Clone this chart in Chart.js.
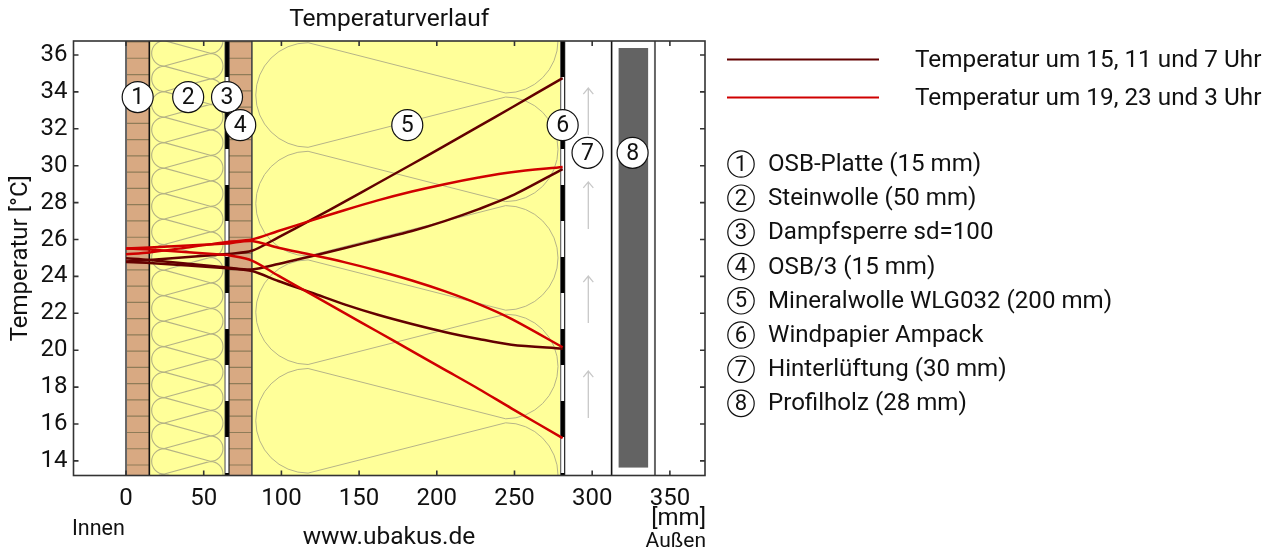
<!DOCTYPE html>
<html>
<head>
<meta charset="utf-8">
<title>Temperaturverlauf</title>
<script src="https://cdn.jsdelivr.net/npm/chart.js@4"></script>
<style>
  html, body { margin: 0; padding: 0; background: #fff; }
  canvas { display: block; }
</style>
</head>
<body>
<canvas id="chart" width="1273" height="551"></canvas>
<script>
/* ================= DATA ================= */
const xTicks = [0, 50, 100, 150, 200, 250, 300, 350];
const yTicks = [14, 16, 18, 20, 22, 24, 26, 28, 30, 32, 34, 36];

// depth in the wall (mm) where temperatures were read
const depth = [0, 15, 65, 66, 81, 98, 120, 141, 162, 184, 205, 227, 248, 281];

const dark15 = [24.81, 24.89, 25.21, 25.22, 25.39, 26.12, 27.1, 28.07, 29.05, 30.08, 31.08, 32.13, 33.14, 34.75];
const dark11 = [24.98, 24.89, 24.48, 24.47, 24.38, 24.67, 25.11, 25.54, 25.99, 26.46, 27.0, 27.65, 28.36, 29.82];
const dark7 = [24.78, 24.73, 24.44, 24.43, 24.29, 23.75, 23.1, 22.47, 21.92, 21.42, 20.99, 20.61, 20.3, 20.08];
const red19 = [25.2, 25.3, 25.86, 25.88, 26.0, 26.46, 27.05, 27.6, 28.12, 28.6, 29.0, 29.36, 29.65, 29.93];
const red23 = [25.52, 25.57, 25.78, 25.79, 25.92, 25.55, 25.16, 24.76, 24.31, 23.78, 23.2, 22.5, 21.7, 20.16];
const red3 = [25.51, 25.46, 25.16, 25.15, 24.86, 24.04, 23.0, 22.0, 21.0, 19.95, 18.95, 17.9, 16.85, 15.24];

const legendLabels = ["Temperatur um 15, 11 und 7 Uhr", "Temperatur um 19, 23 und 3 Uhr"];
const layerNames = [
  "OSB-Platte (15 mm)", "Steinwolle (50 mm)", "Dampfsperre sd=100", "OSB/3 (15 mm)",
  "Mineralwolle WLG032 (200 mm)", "Windpapier Ampack", "Hinterlüftung (30 mm)", "Profilholz (28 mm)"
];
// numbered markers on the wall section
const markerX = [7.5, 40, 65, 73.5, 181, 281, 297, 326];
const markerY = [33.72, 33.72, 33.72, 32.2, 32.2, 32.2, 30.7, 30.7];
const arrowTops = [34.21, 29.12, 24.02, 18.87];

const DARK = "#630000";
const RED = "#d00000";
const FONT = "Roboto";

/* ================= WALL SECTION ================= */
function band(ctx, x, y, a, b, color) {
  ctx.fillStyle = color;
  ctx.fillRect(x(a), y.top, x(b) - x(a), y.bottom - y.top);
}

function vline(ctx, px, area, color, width) {
  ctx.strokeStyle = color;
  ctx.lineWidth = width;
  ctx.beginPath();
  ctx.moveTo(px, area.top);
  ctx.lineTo(px, area.bottom);
  ctx.stroke();
}

function bricks(ctx, x, area, a, b) {
  ctx.strokeStyle = "#8f7c58";
  ctx.lineWidth = 1.2;
  ctx.beginPath();
  for (let py = 42; py < area.bottom; py += 16.27) {
    ctx.moveTo(x(a), py);
    ctx.lineTo(x(b), py);
  }
  ctx.stroke();
}

function wool(ctx, left, right, r, pitch, firstY, bottom, color, width) {
  const cxL = left + r;
  const cxR = right - r;
  ctx.strokeStyle = color;
  ctx.lineWidth = width;
  ctx.beginPath();
  for (let yL = firstY - pitch; yL - r < bottom; yL += pitch) {
    const yR = yL + pitch / 2;
    ctx.moveTo(cxL, yL - r);
    ctx.arc(cxL, yL, r, -Math.PI / 2, Math.PI / 2, true);
    ctx.lineTo(cxR, yR - r);
    ctx.arc(cxR, yR, r, -Math.PI / 2, Math.PI / 2, false);
    ctx.lineTo(cxL, yL + pitch - r);
  }
  ctx.stroke();
}

function foil(ctx, px, area, sideColor) {
  ctx.fillStyle = "#fff";
  ctx.fillRect(px - 2, area.top, 4, area.bottom - area.top);
  vline(ctx, px - 2, area, sideColor, 1.2);
  vline(ctx, px + 2, area, "#222", 1.2);
  ctx.setLineDash([36, 36]);
  vline(ctx, px, area, "#000", 3.8);
  ctx.setLineDash([]);
}

const wallPlugin = {
  id: "wall",
  beforeDatasetsDraw(chart) {
    const { ctx, chartArea: area, scales } = chart;
    const x = v => scales.x.getPixelForValue(v);
    const yv = v => scales.y.getPixelForValue(v);

    ctx.save();
    ctx.beginPath();
    ctx.rect(area.left, area.top, area.right - area.left, area.bottom - area.top);
    ctx.clip();

    band(ctx, x, area, 0, 15, "#d8a982");
    band(ctx, x, area, 66, 81, "#d8a982");
    band(ctx, x, area, 15, 65, "#ffff99");
    band(ctx, x, area, 81, 280, "#ffff99");
    bricks(ctx, x, area, 0, 15);
    bricks(ctx, x, area, 66, 81);

    wool(ctx, x(16.5), x(62.4), 12.7, 25.5, 53.3, area.bottom, "#b5b385", 1.1);
    wool(ctx, x(83.5), x(278), 52.3, 108.6, 95, area.bottom, "#b6b488", 1);

    vline(ctx, x(0), area, "#666", 2);
    vline(ctx, x(15), area, "#111", 1.6);
    vline(ctx, x(81), area, "#444", 1.6);
    foil(ctx, x(65), area, "#666");
    foil(ctx, x(281), area, "#666");
    vline(ctx, x(312.5), area, "#111", 1.6);
    vline(ctx, x(340.4), area, "#666", 2);

    // Profilholz battens
    ctx.fillStyle = "#636363";
    ctx.fillRect(x(317), yv(36.38), x(336) - x(317), yv(13.64) - yv(36.38));

    // air flow arrows
    ctx.strokeStyle = "#c8c8c8";
    ctx.lineWidth = 1.3;
    ctx.beginPath();
    arrowTops.forEach(t => {
      const tip = yv(t);
      const ax = x(297.5);
      ctx.moveTo(ax, tip);
      ctx.lineTo(ax, tip + 47);
      ctx.moveTo(ax - 5, tip + 6);
      ctx.lineTo(ax, tip);
      ctx.lineTo(ax + 5, tip + 6);
    });
    ctx.stroke();
    ctx.restore();
  },

  afterDatasetsDraw(chart) {
    const { ctx, chartArea: area, scales } = chart;
    ctx.save();

    // numbers inside the markers
    ctx.fillStyle = "#111";
    ctx.font = `23px ${FONT}`;
    ctx.textAlign = "center";
    ctx.textBaseline = "middle";
    markerX.forEach((mx, i) => {
      ctx.fillText(String(i + 1), scales.x.getPixelForValue(mx), scales.y.getPixelForValue(markerY[i]) + 1);
    });

    // frame and inside ticks
    ctx.strokeStyle = "#333";
    ctx.lineWidth = 1.6;
    ctx.strokeRect(area.left, area.top, area.right - area.left, area.bottom - area.top);
    ctx.beginPath();
    xTicks.forEach(v => {
      const px = scales.x.getPixelForValue(v);
      ctx.moveTo(px, area.top);
      ctx.lineTo(px, area.top + 5);
      ctx.moveTo(px, area.bottom);
      ctx.lineTo(px, area.bottom - 5);
    });
    yTicks.forEach(v => {
      const py = scales.y.getPixelForValue(v);
      ctx.moveTo(area.left, py);
      ctx.lineTo(area.left + 5, py);
      ctx.moveTo(area.right, py);
      ctx.lineTo(area.right - 5, py);
    });
    ctx.stroke();

    // texts under the axis
    ctx.fillStyle = "#111";
    ctx.textBaseline = "middle";
    ctx.textAlign = "left";
    ctx.font = `21.5px ${FONT}`;
    ctx.fillText("Innen", 72, 530);
    ctx.textAlign = "center";
    ctx.font = `24.5px ${FONT}`;
    ctx.fillText("www.ubakus.de", 389, 538);
    ctx.textAlign = "right";
    ctx.font = `24px ${FONT}`;
    ctx.fillText("[mm]", 706, 519);
    ctx.font = `21px ${FONT}`;
    ctx.fillText("Außen", 706, 542);

    // legend of the curves
    ctx.textAlign = "left";
    ctx.font = `24.3px ${FONT}`;
    [DARK, RED].forEach((color, i) => {
      const ly = 59.5 + i * 38;
      ctx.strokeStyle = color;
      ctx.lineWidth = 2.2;
      ctx.beginPath();
      ctx.moveTo(727, ly);
      ctx.lineTo(879, ly);
      ctx.stroke();
      ctx.fillText(legendLabels[i], 915, ly + 1);
    });

    // legend of the layers
    layerNames.forEach((name, i) => {
      const ly = 164 + i * 34.2;
      ctx.strokeStyle = "#111";
      ctx.lineWidth = 1.2;
      ctx.beginPath();
      ctx.arc(741, ly, 13.2, 0, Math.PI * 2);
      ctx.stroke();
      ctx.textAlign = "center";
      ctx.font = `22px ${FONT}`;
      ctx.fillText(String(i + 1), 741, ly + 1);
      ctx.textAlign = "left";
      ctx.font = `24.1px ${FONT}`;
      ctx.fillText(name, 768, ly + 1);
    });
    ctx.restore();
  }
};

/* ================= CHART ================= */
function curve(values, color) {
  return {
    data: values.map((t, i) => ({ x: depth[i], y: t })),
    showLine: true,
    borderColor: color,
    borderWidth: 2.5,
    pointRadius: 0,
    tension: 0.3,
    order: color === RED ? 1 : 2
  };
}

new Chart(document.getElementById("chart"), {
  type: "scatter",
  data: {
    datasets: [
      curve(dark15, DARK),
      curve(dark11, DARK),
      curve(dark7, DARK),
      curve(red19, RED),
      curve(red23, RED),
      curve(red3, RED),
      {
        data: markerX.map((mx, i) => ({ x: mx, y: markerY[i] })),
        pointRadius: 15.5,
        pointBackgroundColor: "#fff",
        pointBorderColor: "#111",
        pointBorderWidth: 1.2,
        clip: false,
        order: 0
      }
    ]
  },
  options: {
    responsive: false,
    animation: false,
    devicePixelRatio: 1,
    layout: { padding: { left: 0, right: 568, top: 0, bottom: 0 } },
    plugins: {
      legend: { display: false },
      tooltip: { enabled: false },
      title: {
        display: true,
        text: "Temperaturverlauf",
        fullSize: false,
        color: "#111",
        font: { family: FONT, size: 24.5, weight: "normal", lineHeight: 1.2 },
        padding: { top: 5.5, bottom: 6.1 }
      }
    },
    scales: {
      x: {
        type: "linear",
        min: -33.8,
        max: 372.6,
        afterBuildTicks: s => { s.ticks = xTicks.map(v => ({ value: v })); },
        afterFit: s => { s.height = 75.5; },
        grid: { display: false, drawTicks: false },
        border: { display: false },
        ticks: { color: "#111", font: { family: FONT, size: 24 }, padding: 9, maxRotation: 0, autoSkip: false }
      },
      y: {
        type: "linear",
        min: 13.21,
        max: 36.76,
        afterBuildTicks: s => { s.ticks = yTicks.map(v => ({ value: v })); },
        afterFit: s => { s.width = 73.5; },
        grid: { display: false, drawTicks: false },
        border: { display: false },
        title: {
          display: true,
          text: "Temperatur [°C]",
          color: "#111",
          font: { family: FONT, size: 24 },
          padding: { top: 7, bottom: 0 }
        },
        ticks: { color: "#111", font: { family: FONT, size: 24 }, padding: 6, autoSkip: false }
      }
    }
  },
  plugins: [wallPlugin]
});
</script>
</body>
</html>
